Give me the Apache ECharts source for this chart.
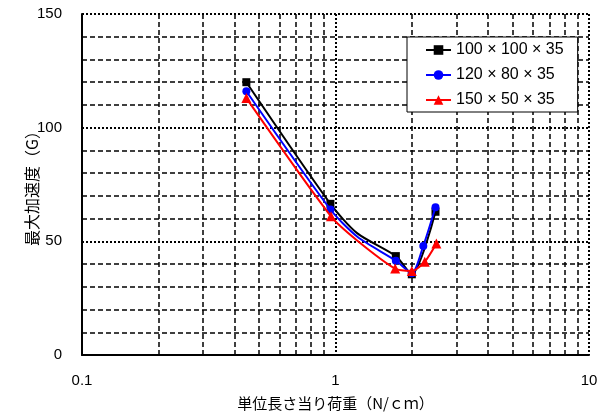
<!DOCTYPE html>
<html>
<head>
<meta charset="utf-8">
<script src="https://cdn.jsdelivr.net/npm/echarts@6/dist/echarts.min.js"></script>
<style>
  html, body { margin: 0; padding: 0; background: #fff; }
  #chart { width: 611px; height: 414px; }
</style>
</head>
<body>
<div id="chart"></div>
<script>
// Load per unit length (N/cm) vs peak acceleration (G) for three cushion sizes
const seriesNames = ['100 × 100 × 35', '120 × 80 × 35', '150 × 50 × 35'];

// [load, acceleration]; points flagged false are curve points without a marker
const load100 = [0.445, 0.955, 1.22, 1.73, 2.0, 2.48];
const acc100 = [120, 66.5, 53.5, 43.5, 35.5, 63];
const mark100 = [true, true, false, true, true, true];

const load120 = [0.445, 0.955, 1.22, 1.73, 2.0, 2.22, 2.48];
const acc120 = [116, 64, 52, 41.5, 36, 48, 65];
const mark120 = [true, true, false, true, true, true, true];

const load150 = [0.445, 0.96, 1.22, 1.72, 2.0, 2.25, 2.5];
const acc150 = [113, 61, 50.3, 38, 37, 41, 49];
const mark150 = [true, true, false, true, true, true, true];

// Log-axis minor grid positions
const minorGridX = [0.2, 0.3, 0.4, 0.5, 0.6, 0.7, 0.8, 0.9, 2, 3, 4, 5, 6, 7, 8, 9];

const xTickLabels = { 0.1: '0.1', 1: '1', 10: '10' };

function pts(xs, ys, marks) {
  return xs.map((x, i) => marks[i] ? [x, ys[i]] : { value: [x, ys[i]], symbol: 'none' });
}

const colors = ['#000000', '#0000ff', '#ff0000'];
const symbols = ['rect', 'circle', 'triangle'];
const sizes = [8, 8, 10];
const datasets = [pts(load100, acc100, mark100), pts(load120, acc120, mark120), pts(load150, acc150, mark150)];

const textFont = '"Liberation Sans", Arial, "Noto Sans CJK JP", sans-serif';
const cjkFont = '"Noto Sans CJK JP", "Liberation Sans", sans-serif';

const chart = echarts.init(document.getElementById('chart'), null, { renderer: 'canvas' });

const dataSeries = seriesNames.map((name, i) => ({
  name: name,
  type: 'line',
  data: datasets[i],
  smooth: 0.25,
  symbol: symbols[i],
  symbolSize: sizes[i],
  z: 5 + i,
  itemStyle: { color: colors[i] },
  lineStyle: { color: colors[i], width: 2 }
}));

chart.setOption({
  animation: false,
  backgroundColor: '#ffffff',
  grid: { left: 82, right: 22, top: 14, bottom: 59, containLabel: false, outerBoundsMode: 'none' },
  legend: {
    orient: 'vertical',
    left: 407,
    top: 37,
    zlevel: 1,
    z: 50,
    padding: [5, 14, 4, 18],
    itemWidth: 25,
    itemHeight: 12,
    itemGap: 9,
    backgroundColor: '#ffffff',
    borderColor: '#000000',
    borderWidth: 1,
    textStyle: { fontFamily: textFont, fontSize: 16, color: '#000' },
    data: seriesNames
  },
  xAxis: {
    type: 'log',
    logBase: 10,
    min: 0.1,
    max: 10,
    name: '単位長さ当り荷重（N/ｃｍ）',
    nameLocation: 'middle',
    nameGap: 41,
    nameMoveOverlap: false,
    nameTextStyle: { fontFamily: cjkFont, fontSize: 15, color: '#000' },
    axisLine: { onZero: false, lineStyle: { color: '#000', width: 2 } },
    axisTick: { show: false },
    axisLabel: {
      margin: 18,
      fontFamily: textFont,
      fontSize: 15,
      color: '#000',
      formatter: v => xTickLabels[v] !== undefined ? xTickLabels[v] : String(v)
    },
    splitLine: { show: true, lineStyle: { color: '#000', width: 2, type: [2, 2] } }
  },
  yAxis: {
    type: 'value',
    min: 0,
    max: 150,
    interval: 50,
    name: '最大加速度（G）',
    nameLocation: 'middle',
    nameGap: 42,
    nameMoveOverlap: false,
    nameTextStyle: { fontFamily: cjkFont, fontSize: 16, color: '#000' },
    axisLine: { show: true, lineStyle: { color: '#000', width: 2 } },
    axisTick: { show: false },
    axisLabel: { margin: 20, fontFamily: textFont, fontSize: 15, color: '#000' },
    splitLine: { show: true, lineStyle: { color: '#000', width: 2, type: [2, 2] } },
    minorTick: { show: false, splitNumber: 5 },
    minorSplitLine: { show: true, lineStyle: { color: '#000', width: 1.5, type: [5, 3] } }
  },
  series: [
    {
      name: 'grid',
      type: 'line',
      data: [],
      silent: true,
      z: 1,
      markLine: {
        silent: true,
        symbol: 'none',
        label: { show: false },
        lineStyle: { color: '#000', width: 1.5, type: [5, 3] },
        data: minorGridX.map(v => ({ xAxis: v }))
      }
    }
  ].concat(dataSeries)
});
</script>
</body>
</html>
